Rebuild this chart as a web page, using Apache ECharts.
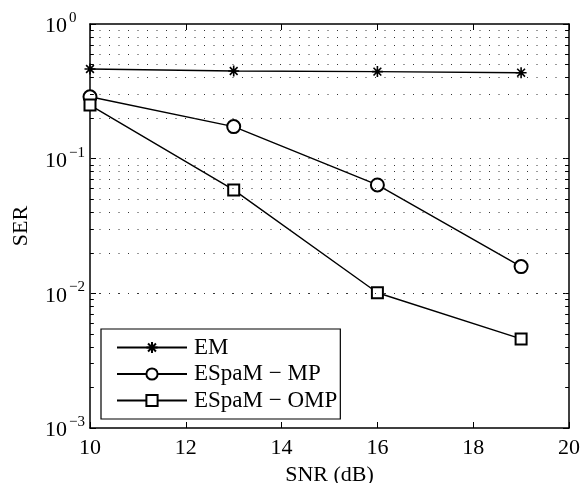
<!DOCTYPE html>
<html><head><meta charset="utf-8">
<script src="https://cdn.jsdelivr.net/npm/echarts@6/dist/echarts.min.js"></script>
<style>html,body{margin:0;padding:0;background:#fff}#c{width:588px;height:483px}</style>
</head><body><div id="c"></div>
<script>
const snr = [10, 13, 16, 19];
const serEM = [0.463, 0.448, 0.443, 0.435];
const serMP = [0.288, 0.173, 0.0638, 0.0158];
const serOMP = [0.250, 0.0586, 0.0101, 0.00459];
const xTicks = [10, 12, 14, 16, 18, 20];
const yMin = 0.001, yMax = 1;
const names = ['EM', 'ESpaM \u2212 MP', 'ESpaM \u2212 OMP'];

const FONT = 'Liberation Serif';
const FS = 22;
const star = 'path://M0,-10L0,10M-10,0L10,0M-7.07,-7.07L7.07,7.07M-7.07,7.07L7.07,-7.07';

const gridVals = [];
for (let d = -3; d < 0; d++) {
  for (let k = 1; k <= 9; k++) {
    const v = k * Math.pow(10, d);
    if (v > yMin * 1.0001 && v < yMax * 0.9999) gridVals.push(+v.toPrecision(3));
  }
}
const minorVals = gridVals.filter(v => {
  const m = v / Math.pow(10, Math.floor(Math.log10(v) + 1e-9));
  return Math.abs(m - 1) > 1e-6;
});
const gridLines = gridVals.map(v => ({ yAxis: v }));
const minorTicks = [];
minorVals.forEach(v => {
  minorTicks.push([{ coord: [10, v] }, { coord: [10.08, v] }]);
  minorTicks.push([{ coord: [19.92, v] }, { coord: [20, v] }]);
});

function yLabel(v) {
  const e = Math.round(Math.log10(v));
  const s = e === 0 ? '0' : '\u2212' + (-e);
  return '{b|10}{e|' + s + '}';
}

const lineStyle = { color: '#000', width: 1.4 };
const chart = echarts.init(document.getElementById('c'), null, { renderer: 'canvas' });
chart.setOption({
  animation: false,
  backgroundColor: '#fff',
  textStyle: { fontFamily: FONT },
  grid: { left: 90, right: 19, top: 24, bottom: 55, containLabel: false, outerBoundsMode: 'none' },
  legend: {
    data: names,
    orient: 'vertical',
    left: 101, top: 329,
    itemWidth: 70, itemHeight: 14, itemGap: 3.5,
    padding: [7, 3, 7, 15],
    backgroundColor: '#fff',
    borderColor: '#000', borderWidth: 1.2, borderRadius: 0,
    textStyle: { fontFamily: FONT, fontSize: 23, color: '#000', padding: [0, 0, 0, 2] },
    selectedMode: false
  },
  xAxis: [{
    type: 'value', min: xTicks[0], max: xTicks[xTicks.length - 1], interval: 2,
    position: 'bottom',
    axisLine: { lineStyle: { color: '#000', width: 1.5 } },
    axisTick: { inside: true, length: 6, lineStyle: { color: '#000', width: 1 } },
    axisLabel: { color: '#000', fontFamily: FONT, fontSize: FS, margin: 9 },
    splitLine: { show: false },
    name: 'SNR (dB)', nameLocation: 'middle', nameGap: 32,
    nameTextStyle: { color: '#000', fontFamily: FONT, fontSize: FS, verticalAlign: 'top' }
  }, {
    type: 'value', min: xTicks[0], max: xTicks[xTicks.length - 1], interval: 2,
    position: 'top',
    axisLine: { lineStyle: { color: '#000', width: 1.5 } },
    axisTick: { inside: true, length: 6, lineStyle: { color: '#000', width: 1 } },
    axisLabel: { show: false }, splitLine: { show: false }
  }],
  yAxis: [{
    type: 'log', logBase: 10, min: yMin, max: yMax,
    position: 'left',
    axisLine: { lineStyle: { color: '#000', width: 1.5 } },
    axisTick: { inside: true, length: 6, lineStyle: { color: '#000', width: 1 } },
    axisLabel: {
      margin: 45, align: 'left', formatter: yLabel,
      rich: {
        b: { fontFamily: FONT, fontSize: FS, color: '#000', verticalAlign: 'bottom', padding: [0, 0, 0, 0] },
        e: { fontFamily: FONT, fontSize: 15, color: '#000', verticalAlign: 'bottom', padding: [0, 0, 12, 2] }
      }
    },
    splitLine: { show: false },
    name: 'SER', nameLocation: 'middle', nameGap: 58, nameRotate: 90,
    nameTextStyle: { color: '#000', fontFamily: FONT, fontSize: FS }
  }, {
    type: 'log', logBase: 10, min: yMin, max: yMax,
    position: 'right',
    axisLine: { lineStyle: { color: '#000', width: 1.5 } },
    axisTick: { inside: true, length: 6, lineStyle: { color: '#000', width: 1 } },
    axisLabel: { show: false }, splitLine: { show: false }
  }],
  series: [{
    name: 'grid', type: 'line', data: [], silent: true, z: 1,
    markLine: {
      silent: true, symbol: ['none', 'none'], label: { show: false },
      lineStyle: { color: '#333', width: 1, type: [1, 8.5] },
      data: gridLines, animation: false
    }
  }, {
    name: 'ticks', type: 'line', data: [], silent: true, z: 1,
    markLine: {
      silent: true, symbol: ['none', 'none'], label: { show: false },
      lineStyle: { color: '#000', width: 1, type: 'solid' },
      data: minorTicks, animation: false
    }
  }, {
    name: names[0], type: 'line', z: 3,
    data: snr.map((x, i) => [x, serEM[i]]),
    symbol: star, symbolSize: 11,
    lineStyle: lineStyle,
    itemStyle: { color: '#000', borderColor: '#000', borderWidth: 1.6 }
  }, {
    name: names[1], type: 'line', z: 3,
    data: snr.map((x, i) => [x, serMP[i]]),
    symbol: 'emptyCircle', symbolSize: 13, showAllSymbol: true,
    lineStyle: lineStyle,
    itemStyle: { color: '#000', borderColor: '#000', borderWidth: 1.4 }
  }, {
    name: names[2], type: 'line', z: 3,
    data: snr.map((x, i) => [x, serOMP[i]]),
    symbol: 'emptyRect', symbolSize: 11,
    lineStyle: lineStyle,
    itemStyle: { color: '#000', borderColor: '#000', borderWidth: 1.4 }
  }]
});
</script></body></html>
